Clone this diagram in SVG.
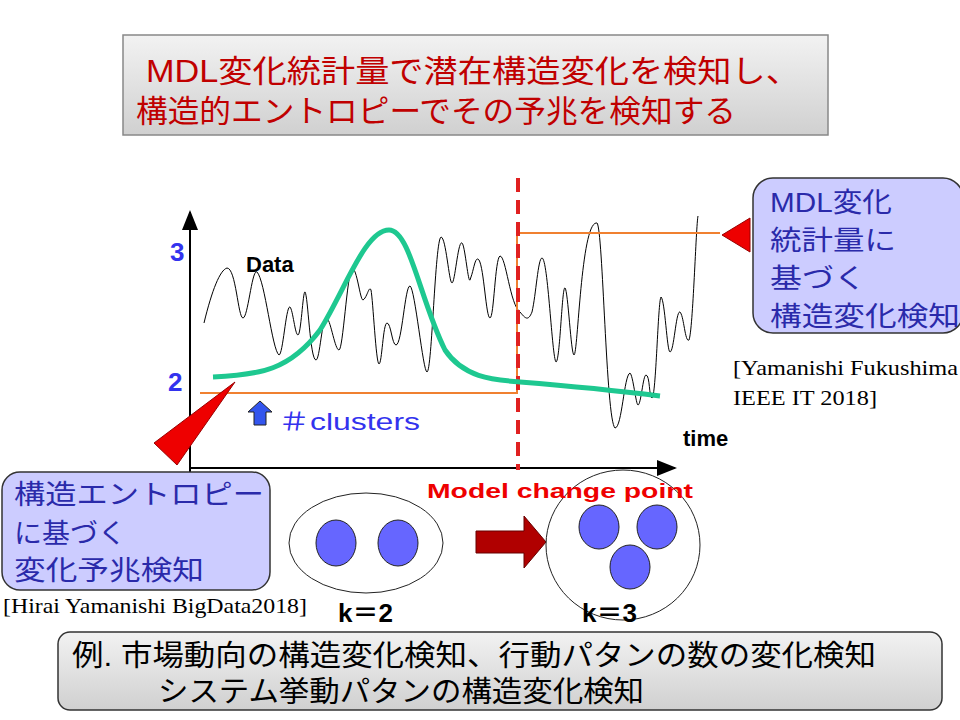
<svg xmlns="http://www.w3.org/2000/svg" width="960" height="720" viewBox="0 0 960 720">
<style>
.jp{font-family:"Liberation Sans","Noto Sans CJK JP",sans-serif}
.t{font-family:"Liberation Serif",serif;font-size:21px}
.b{font-weight:bold}
.box{fill:#ccccff;stroke:#333;stroke-width:1.5}
.cl{fill:#6666ff;stroke:#222;stroke-width:1}
</style>
<defs>
<linearGradient id="g" x1="0" y1="0" x2="0" y2="1"><stop offset="0" stop-color="#f2f2f2"/><stop offset="1" stop-color="#d0d0d0"/></linearGradient>
<marker id="ah" markerWidth="10" markerHeight="8" refX="9" refY="4" orient="auto"><path d="M0,0L10,4L0,8z" fill="#000"/></marker>
</defs>
<rect width="960" height="720" fill="#fff"/>
<g id="title">
<rect x="123" y="35" width="705" height="100" fill="url(#g)" stroke="#888" stroke-width="1.5"/>
<text class="jp" x="146" y="82" font-size="31" fill="#c00000" textLength="654" lengthAdjust="spacingAndGlyphs">MDL変化統計量で潜在構造変化を検知し、</text>
<text class="jp" x="136" y="122" font-size="31" fill="#c00000" textLength="600" lengthAdjust="spacingAndGlyphs">構造的エントロピーでその予兆を検知する</text>
</g>
<g id="chart">
<line x1="190" y1="472" x2="190" y2="212" stroke="#000" stroke-width="2" marker-end="url(#ah)"/>
<line x1="190" y1="468" x2="675" y2="468" stroke="#000" stroke-width="2" marker-end="url(#ah)"/>
<text class="jp b" x="170" y="261" font-size="26" fill="#3333ee">3</text>
<text class="jp b" x="168" y="391" font-size="26" fill="#3333ee">2</text>
<text class="jp b" x="246" y="272" font-size="22" fill="#000">Data</text>
<path d="M204,323 C212,290 220,270 227,268 C236,268 238,318 243,318 C248,318 252,268 257,272 C265,280 272,350 279,355 C283,355 286,305 290,307 C293,310 295,335 298,335 C301,335 303,290 305,292 C308,295 310,360 316,360 C320,360 322,315 327,318 C331,322 335,350 339,350 C343,350 347,275 352,268 C357,268 360,300 363,300 C367,298 369,285 371,290 C373,300 376,364 379,364 C382,364 383,323 387,323 C391,323 392,345 396,345 C402,345 405,285 410,286 C415,288 423,372 427,372 C432,372 435,240 441,237 C446,237 449,283 452,283 C455,283 458,240 462,243 C465,245 468,283 470,280 C474,270 475,255 479,260 C484,268 486,318 490,318 C494,318 495,258 500,256 C506,256 510,305 520,312 C525,318 528,322 532,312 C536,295 538,258 542,258 C548,258 552,358 556,362 C560,362 562,285 565,288 C568,290 571,355 574,355 C578,355 581,220 597,223 C603,228 606,420 615,428 C622,428 624,375 630,373 C633,375 636,405 638,405 C641,405 643,375 646,375 C650,375 649,398 652,398 C656,398 658,300 661,297 C665,300 667,352 670,352 C674,352 676,310 680,312 C684,316 685,343 689,340 C693,330 696,225 698,216" fill="none" stroke="#000" stroke-width="1"/>
<polyline points="200,393 517,393 517,233 720,233" fill="none" stroke="#f08030" stroke-width="2"/>
<line x1="518" y1="178" x2="518" y2="470" stroke="#e02020" stroke-width="4" stroke-dasharray="14,8"/>
<path d="M213,377 C260,375 290,370 320,330 C345,290 365,230 389,230 C410,230 420,300 445,350 C465,380 500,380 520,382 C570,386 620,391 660,396" fill="none" stroke="#1ec890" stroke-width="5"/>
<polygon points="235,382 154,443 177,465" fill="#ee0000" stroke="#900" stroke-width="1"/>
<polygon points="722,235 750,218 750,252" fill="#ee0000" stroke="#900" stroke-width="1"/>
<polygon points="260,401 272,412 266,412 266,425 254,425 254,412 248,412" fill="#3355ee" stroke="#222" stroke-width="1"/>
<text class="jp" x="278" y="430" font-size="24" fill="#3333ee" textLength="142" lengthAdjust="spacingAndGlyphs">＃clusters</text>
<text class="jp b" x="683" y="446" font-size="22" fill="#000">time</text>
</g>
<g id="mdlbox">
<rect class="box" x="753" y="178" width="210" height="155" rx="20"/>
<text class="jp" x="770" y="212" font-size="27" fill="#2a2aaa" textLength="122" lengthAdjust="spacingAndGlyphs">MDL変化</text>
<text class="jp" x="770" y="250" font-size="27" fill="#2a2aaa" textLength="126" lengthAdjust="spacingAndGlyphs">統計量に</text>
<text class="jp" x="770" y="288" font-size="27" fill="#2a2aaa" textLength="96" lengthAdjust="spacingAndGlyphs">基づく</text>
<text class="jp" x="770" y="326" font-size="27" fill="#2a2aaa" textLength="190" lengthAdjust="spacingAndGlyphs">構造変化検知</text>
<text class="t" x="733" y="375" textLength="225" lengthAdjust="spacingAndGlyphs">[Yamanishi Fukushima</text>
<text class="t" x="733" y="405" textLength="144" lengthAdjust="spacingAndGlyphs">IEEE IT 2018]</text>
</g>
<g id="entbox">
<rect class="box" x="2" y="472" width="268" height="118" rx="18"/>
<text class="jp" x="14" y="504" font-size="27" fill="#2a2aaa" textLength="250" lengthAdjust="spacingAndGlyphs">構造エントロピー</text>
<text class="jp" x="14" y="543" font-size="27" fill="#2a2aaa" textLength="112" lengthAdjust="spacingAndGlyphs">に基づく</text>
<text class="jp" x="14" y="580" font-size="27" fill="#2a2aaa" textLength="190" lengthAdjust="spacingAndGlyphs">変化予兆検知</text>
<text class="t" x="3" y="613" font-size="20" textLength="304" lengthAdjust="spacingAndGlyphs">[Hirai Yamanishi BigData2018]</text>
</g>
<g id="clusters">
<ellipse cx="366" cy="543" rx="77" ry="50" fill="#fff" stroke="#222"/>
<ellipse class="cl" cx="336" cy="543" rx="20" ry="23"/>
<ellipse class="cl" cx="398" cy="543" rx="20" ry="23"/>
<polygon points="476,531 524,531 524,516 546,542 524,568 524,553 476,553" fill="#b00000" stroke="#600" stroke-width="1"/>
<ellipse cx="623" cy="545" rx="77" ry="75" fill="#fff" stroke="#222"/>
<ellipse class="cl" cx="599" cy="527" rx="20" ry="22"/>
<ellipse class="cl" cx="657" cy="527" rx="20" ry="22"/>
<ellipse class="cl" cx="630" cy="567" rx="20" ry="22"/>
<text class="jp b" x="338" y="622" font-size="26">k＝2</text>
<text class="jp b" x="582" y="622" font-size="26">k＝3</text>
<text class="jp b" x="427" y="498" font-size="21" fill="#ee0000" textLength="266" lengthAdjust="spacingAndGlyphs">Model change point</text>
</g>
<g id="example">
<rect x="58" y="632" width="884" height="78" rx="12" fill="url(#g)" stroke="#333" stroke-width="1.5"/>
<text class="jp" x="72" y="666" font-size="29" textLength="804" lengthAdjust="spacingAndGlyphs">例.  市場動向の構造変化検知、行動パタンの数の変化検知</text>
<text class="jp" x="158" y="702" font-size="29" textLength="486" lengthAdjust="spacingAndGlyphs">システム挙動パタンの構造変化検知</text>
</g>
</svg>
